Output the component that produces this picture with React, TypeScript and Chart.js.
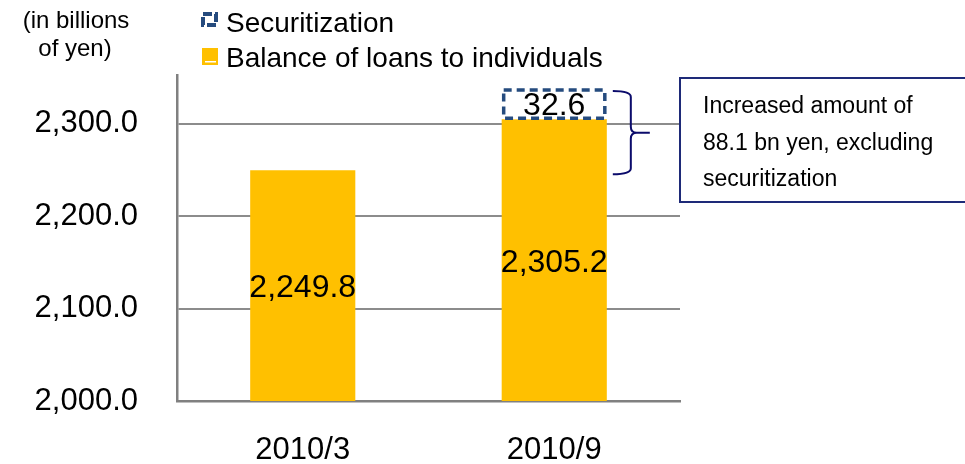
import React, { useEffect, useRef } from "react";
import { Chart, registerables } from "chart.js";

Chart.register(...registerables);

const categories = ["2010/3", "2010/9"];
const balanceValues = [2249.8, 2305.2];
const securitizationValues = [null, 32.6];
const seriesNames = ["Balance of loans to individuals", "Securitization"];
const yTitleLines = ["(in billions", "of yen)"];
const noteLines = ["Increased amount of", "88.1 bn yen, excluding", "securitization"];

const FONT = "'Liberation Sans', Arial, sans-serif";
const YELLOW = "#FFC000";
const DASH_BLUE = "#254B7E";
const NAVY = "#0B0B6B";

const fmt = (v: number) =>
  v.toLocaleString("en-US", { minimumFractionDigits: 1, maximumFractionDigits: 1 });

const overlayPlugin = {
  id: "overlay",
  afterDatasetsDraw(chart: any) {
    const ctx = chart.ctx;
    const area = chart.chartArea;
    const m0 = chart.getDatasetMeta(0);
    const m1 = chart.getDatasetMeta(1);
    ctx.save();

    // dashed securitization boxes
    m1.data.forEach((el: any, i: number) => {
      const v = securitizationValues[i];
      if (v == null) return;
      const p = el.getProps(["x", "y", "base", "width"], true);
      const l = p.x - p.width / 2 + 2;
      const r = p.x + p.width / 2 - 2;
      const t = p.y + 1;
      const b = p.base;
      ctx.fillStyle = "#ffffff";
      ctx.fillRect(l, t, r - l, b - t);
      ctx.strokeStyle = DASH_BLUE;
      ctx.lineWidth = 3.5;
      ctx.setLineDash([8, 5]);
      ctx.strokeRect(l, t, r - l, b - t - 1);
      ctx.setLineDash([]);
      ctx.fillStyle = "#000";
      ctx.font = `32px ${FONT}`;
      ctx.textAlign = "center";
      ctx.textBaseline = "middle";
      ctx.fillText(fmt(v), p.x, (t + b) / 2 + 2);
    });

    // balance labels
    m0.data.forEach((el: any, i: number) => {
      const p = el.getProps(["x", "y", "base"], true);
      const bottom = Math.min(p.base, area.bottom);
      ctx.fillStyle = "#000";
      ctx.font = `32px ${FONT}`;
      ctx.textAlign = "center";
      ctx.textBaseline = "middle";
      ctx.fillText(fmt(balanceValues[i]), p.x, (p.y + bottom) / 2 + 3);
    });

    // brace from first bar top to top of second stack
    const yScale = chart.scales.y;
    const topVal = (balanceValues[1] as number) + (securitizationValues[1] as number);
    const yTop = yScale.getPixelForValue(topVal) + 2;
    const yBot = yScale.getPixelForValue(balanceValues[0]) + 4;
    const yMid = (yTop + yBot) / 2;
    const el1 = m0.data[1].getProps(["x", "width"], true);
    const x0 = el1.x + el1.width / 2 + 6;
    const xv = x0 + 18;
    const xt = x0 + 37;
    const rr = 6;
    ctx.strokeStyle = NAVY;
    ctx.lineWidth = 2;
    ctx.beginPath();
    ctx.moveTo(x0, yTop);
    ctx.quadraticCurveTo(xv, yTop, xv, yTop + rr);
    ctx.lineTo(xv, yMid - rr);
    ctx.quadraticCurveTo(xv, yMid, xv + 6, yMid);
    ctx.lineTo(xt, yMid);
    ctx.moveTo(xv + 6, yMid);
    ctx.quadraticCurveTo(xv, yMid, xv, yMid + rr);
    ctx.lineTo(xv, yBot - rr);
    ctx.quadraticCurveTo(xv, yBot, x0, yBot);
    ctx.stroke();

    // note box
    const bx = area.right;
    const by = 78;
    ctx.lineWidth = 2;
    ctx.strokeStyle = "#1E2A78";
    ctx.strokeRect(bx, by, chart.width - bx + 10, 124);
    ctx.fillStyle = "#000";
    ctx.font = `23px ${FONT}`;
    ctx.textAlign = "left";
    ctx.textBaseline = "alphabetic";
    noteLines.forEach((s, i) => ctx.fillText(s, bx + 23, 113 + i * 36.5));

    // y title
    ctx.font = `24px ${FONT}`;
    ctx.textAlign = "center";
    ctx.fillText(yTitleLines[0], 76, 28);
    ctx.fillText(yTitleLines[1], 75, 56);

    // legend
    ctx.setLineDash([9, 3]);
    ctx.strokeStyle = DASH_BLUE;
    ctx.lineWidth = 4;
    ctx.strokeRect(203, 14, 13, 11);
    ctx.setLineDash([]);
    ctx.fillStyle = YELLOW;
    ctx.fillRect(202, 48, 16, 17);
    ctx.fillStyle = "#fff";
    ctx.fillRect(205, 61, 11, 1.5);
    ctx.fillStyle = "#000";
    ctx.font = `28px ${FONT}`;
    ctx.textAlign = "left";
    ctx.fillText(seriesNames[1], 226, 32);
    ctx.fillText(seriesNames[0], 226, 67);

    ctx.restore();
  },
};

export default function App() {
  const ref = useRef<HTMLCanvasElement>(null);
  useEffect(() => {
    document.body.style.margin = "0";
    const chart = new Chart(ref.current as HTMLCanvasElement, {
      type: "bar",
      data: {
        labels: categories,
        datasets: [
          {
            label: seriesNames[0],
            data: balanceValues,
            backgroundColor: YELLOW,
            borderWidth: 0,
            barPercentage: 0.418,
            categoryPercentage: 1,
          },
          {
            label: seriesNames[1],
            data: securitizationValues as any,
            backgroundColor: "rgba(0,0,0,0)",
            borderWidth: 0,
            barPercentage: 0.418,
            categoryPercentage: 1,
          },
        ],
      },
      options: {
        responsive: false,
        animation: false,
        layout: { padding: { left: 0, right: 285, top: 75, bottom: 0 } },
        plugins: { legend: { display: false }, tooltip: { enabled: false } },
        scales: {
          x: {
            stacked: true,
            grid: { display: false },
            border: { display: true, color: "#808080", width: 2.5 },
            ticks: { color: "#000", font: { family: FONT, size: 31 }, padding: 23 },
            afterFit: (s: any) => {
              s.height = 63;
            },
          },
          y: {
            stacked: true,
            min: 2000,
            max: 2353,
            grid: { color: "#8c8c8c", lineWidth: 2, drawTicks: false },
            border: { display: true, color: "#808080", width: 2.5 },
            ticks: {
              stepSize: 100,
              color: "#000",
              font: { family: FONT, size: 31 },
              padding: 39,
              callback: (v: any) => fmt(Number(v)),
            },
            afterBuildTicks: (s: any) => {
              s.ticks = s.ticks.filter((t: any) => t.value % 100 === 0);
            },
            afterFit: (s: any) => {
              s.width = 177;
            },
          },
        },
      },
      plugins: [overlayPlugin],
    });
    return () => chart.destroy();
  }, []);
  return (
    <div style={{ width: 965, height: 464, position: "relative", background: "#fff" }}>
      <canvas ref={ref} width={965} height={464} />
    </div>
  );
}
